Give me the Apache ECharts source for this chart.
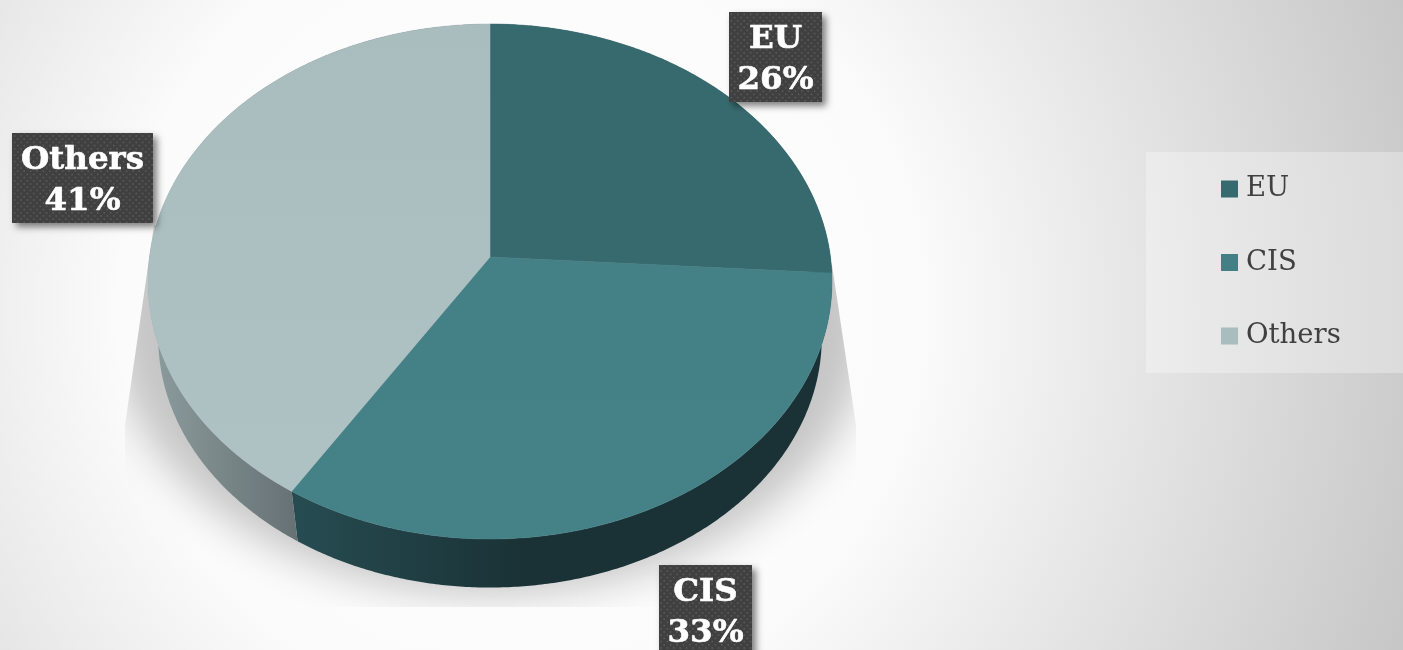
<!DOCTYPE html>
<html><head><meta charset="utf-8">
<script src="https://cdn.jsdelivr.net/npm/echarts@6/dist/echarts.min.js"></script>
<style>html,body{margin:0;padding:0;overflow:hidden}#c{width:1403px;height:650px}</style>
</head><body><div id="c"></div>
<script>
const categories = ['EU', 'CIS', 'Others'];
const shares = [26, 33, 41];

const faceColors = ['#376a6e', '#437f85', '#a9bcbe'];
const faceLow = ['#376a6e', '#458288', '#afc2c4'];
const rimStops = [['#2c5a5e', '#244a4e'], ['#264c51', '#1a3236'], ['#8c9c9d', '#667174']];
const rimRange = [[490, 832], [297, 520], [150, 297]];
const labelBoxes = [[729, 12, 93, 90], [659, 565, 93, 92], [12, 133, 141, 90]];

const GEO = { cx: 490, apexTop: 257, apexLow: 314, rx: 342, up: 233, down: 282, low: 0.97 };
const k = (GEO.down - GEO.up) / (GEO.down + GEO.up);
const A = GEO.up * (1 + k);
const B = GEO.rx * Math.sqrt(1 - k * k);
function project(theta, lower) {
  const u = Math.sin(theta), w = -Math.cos(theta), d = 1 - k * w, s = lower ? GEO.low : 1;
  return [GEO.cx + s * B * u / d, (lower ? GEO.apexLow : GEO.apexTop) + s * A * w / d];
}
function arc(a0, a1, lower) {
  const n = Math.max(8, Math.ceil((a1 - a0) * 120)), pts = [];
  for (let i = 0; i <= n; i++) pts.push(project(a0 + (a1 - a0) * i / n, lower));
  return pts;
}
const total = shares.reduce((a, b) => a + b, 0);
const dotTile = (function () {
  const c = document.createElement('canvas'); c.width = 32; c.height = 32;
  const g = c.getContext('2d');
  g.fillStyle = '#404040'; g.fillRect(0, 0, 32, 32);
  g.fillStyle = '#5a5a5a';
  for (let r = 0; r < 10; r++) for (let q = 0; q < 5; q++) {
    g.fillRect((q * 6.4 + (r % 2 ? 3.2 : 0) + 1) % 32, r * 3.2 + 0.8, 1.6, 1.6);
  }
  return c;
})();

function sliceRender(idx) {
  return function (params, api) {
    const value = api.value(0);
    const before = shares.slice(0, idx).reduce((a, b) => a + b, 0);
    const a0 = before / total * Math.PI * 2, a1 = (before + value) / total * Math.PI * 2;
    const top = arc(a0, a1, false), low = arc(a0, a1, true).reverse();
    const apex = [GEO.cx, GEO.apexTop];
    const box = labelBoxes[idx];
    const faceFill = new echarts.graphic.LinearGradient(0, 24, 0, 540,
      [{ offset: 0, color: faceColors[idx] }, { offset: 1, color: faceLow[idx] }], true);
    return {
      type: 'group', children: [
        { type: 'polygon', z2: 1, shape: { points: top.concat(low) },
          style: { fill: new echarts.graphic.LinearGradient(rimRange[idx][0], 0, rimRange[idx][1], 0,
            [{ offset: 0, color: rimStops[idx][0] }, { offset: 1, color: rimStops[idx][1] }], true) } },
        { type: 'polygon', z2: 2, shape: { points: [apex].concat(top) },
          style: { fill: faceFill, stroke: faceFill, lineWidth: 0.5 } },
        { type: 'rect', z2: 10, shape: { x: box[0], y: box[1], width: box[2], height: box[3] },
          style: { fill: { image: dotTile, repeat: 'repeat' }, shadowBlur: 7, shadowOffsetX: 4, shadowOffsetY: 4, shadowColor: 'rgba(0,0,0,0.5)' } },
        { type: 'text', z2: 11, x: box[0] + box[2] / 2, y: box[1] + 45 + 3,
          style: { text: categories[idx] + '\n' + value + '%', fill: '#ffffff', stroke: '#ffffff', lineWidth: 0.6, align: 'center', verticalAlign: 'middle',
            font: 'bold 32.5px "DejaVu Serif"', lineHeight: 41 } }
      ]
    };
  };
}
const series = [{
  type: 'custom', name: '_shadow', coordinateSystem: 'none', silent: true, data: [[0]],
  renderItem: function () {
    return { type: 'ellipse', z2: 0, shape: { cx: 490 - 3000, cy: 318, rx: 380, ry: 277 },
      style: { fill: '#000', shadowBlur: 42, shadowColor: '#c6c6c6', shadowOffsetX: 3000 },
      clipPath: { type: 'polygon', shape: { points: [[154, 225], [125, 425], [125, 607], [856, 607], [856, 425], [832, 265]] } } };
  }
}];
categories.forEach(function (name, i) {
  series.push({ type: 'custom', name: name, coordinateSystem: 'none', data: [[shares[i]]],
    itemStyle: { color: faceColors[i] }, renderItem: sliceRender(i) });
});
const chart = echarts.init(document.getElementById('c'), null, { renderer: 'canvas' });
chart.setOption({
  animation: false,
  backgroundColor: { type: 'radial', x: 520, y: 310, r: 950, global: true,
    colorStops: [{ offset: 0, color: '#ffffff' }, { offset: 0.42, color: '#fbfbfb' }, { offset: 1, color: '#c6c6c6' }] },
  legend: {
    data: categories, orient: 'vertical', left: 1146, top: 152,
    padding: [23, 63, 23, 75], itemWidth: 17, itemHeight: 17, itemGap: 45.5, icon: 'rect',
    backgroundColor: 'rgba(255,255,255,0.3)', selectedMode: false,
    textStyle: { fontFamily: '"DejaVu Serif"', fontSize: 27.5, color: '#404040', padding: [0, 0, 0, 3] }
  },
  series: series
});
</script></body></html>
